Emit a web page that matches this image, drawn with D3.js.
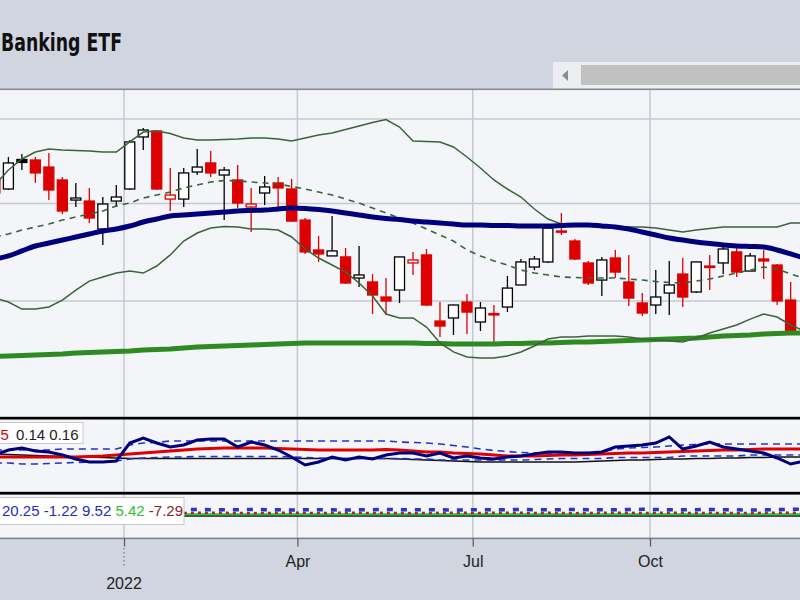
<!DOCTYPE html>
<html><head><meta charset="utf-8">
<script src="https://cdn.jsdelivr.net/npm/d3@7"></script>
<style>body{margin:0;background:#d0d5e0;}svg{display:block}</style>
</head><body>
<svg id="chart" width="800" height="600"></svg>
<script>
// ---------- DATA ----------
const weeks = ["2021-10-26","2021-11-02","2021-11-09","2021-11-16","2021-11-23","2021-11-30","2021-12-07","2021-12-14","2021-12-21","2021-12-28",
"2022-01-04","2022-01-11","2022-01-18","2022-01-25","2022-02-01","2022-02-08","2022-02-15","2022-02-22","2022-03-01","2022-03-08",
"2022-03-15","2022-03-22","2022-03-29","2022-04-05","2022-04-12","2022-04-19","2022-04-26","2022-05-03","2022-05-10","2022-05-17",
"2022-05-24","2022-05-31","2022-06-07","2022-06-14","2022-06-21","2022-06-28","2022-07-05","2022-07-12","2022-07-19","2022-07-26",
"2022-08-02","2022-08-09","2022-08-16","2022-08-23","2022-08-30","2022-09-06","2022-09-13","2022-09-20","2022-09-27","2022-10-04",
"2022-10-11","2022-10-18","2022-10-25","2022-11-01","2022-11-08","2022-11-15","2022-11-22","2022-11-29","2022-12-06","2022-12-13","2022-12-20"];

const opens  = [72.88,71.62,75.04,74.98,74.15,72.65,70.38,70.27,67.23,70.27,71.62,77.76,78.50,70.49,70.49,73.57,74.63,73.22,72.65,69.61,
71.17,72.31,71.62,68.19,65.04,64.43,64.33,62.22,61.83,60.38,61.05,63.72,64.53,58.13,58.41,59.90,58.04,58.82,59.43,61.54,
63.31,63.82,67.02,65.97,63.72,62.02,64.22,61.83,59.81,59.62,60.76,62.61,60.86,63.41,63.72,64.84,62.91,64.12,63.51,60.09];
const highs  = [73.80,75.34,75.69,75.34,75.81,72.99,72.31,71.74,70.72,72.08,77.39,78.87,78.62,74.04,74.04,76.29,76.05,74.15,74.39,71.74,
73.11,72.99,72.76,68.41,66.49,68.63,65.25,65.45,62.61,62.22,64.35,64.84,65.14,59.90,59.65,60.67,59.90,59.62,62.42,64.12,
64.43,67.55,68.95,66.18,63.92,64.33,65.04,64.53,60.76,63.01,63.92,64.22,63.85,64.53,65.45,65.35,64.74,65.04,63.61,61.83];
const lows   = [70.61,71.51,73.80,72.31,70.38,68.84,69.61,67.87,65.56,69.61,71.51,76.17,71.51,69.17,69.61,73.22,72.99,68.19,69.50,66.91,
69.83,69.61,67.98,64.63,63.82,64.43,61.63,61.34,58.78,58.69,59.81,62.52,59.53,56.68,56.86,56.95,57.22,56.23,58.96,61.54,
63.01,63.72,66.60,64.02,61.54,60.47,62.22,59.53,58.59,58.78,58.69,59.43,60.76,61.05,62.61,62.32,62.91,62.12,59.62,57.04];
const closes = [71.17,74.63,74.69,73.46,71.51,69.17,70.61,68.41,69.94,70.72,77.15,78.62,71.62,70.94,73.46,74.15,73.46,73.80,70.05,69.94,
71.85,71.74,68.08,64.84,64.63,64.94,61.73,62.52,60.57,60.00,64.33,64.02,59.62,57.67,59.62,58.96,59.34,58.69,61.24,63.82,
64.12,67.33,66.91,64.12,61.73,64.02,62.81,60.28,58.87,60.38,61.54,60.38,63.82,63.26,65.14,62.81,64.43,63.92,60.00,57.13];

const bbUpper = [72.08,73.80,75.10,75.93,76.29,76.17,76.11,76.05,75.93,75.93,77.15,78.37,78.50,78.19,77.64,77.39,77.39,77.45,77.51,77.64,
77.64,77.51,77.27,77.64,78.00,78.25,78.68,79.12,79.56,79.94,78.99,77.27,77.21,77.15,76.54,75.34,74.04,72.65,71.62,70.72,
69.39,68.30,67.76,67.71,67.60,67.55,67.49,67.44,67.44,67.33,67.12,66.91,67.12,67.28,67.44,67.44,67.44,67.44,67.44,67.87,67.87];
const bbMiddle = [66.39,66.70,67.12,67.44,67.76,68.19,68.52,68.84,69.17,69.72,70.05,70.61,70.94,71.28,71.74,72.08,72.42,72.59,72.54,72.42,
72.31,72.19,71.91,71.62,71.28,70.94,70.49,70.05,69.50,68.95,68.41,67.87,67.23,66.60,65.97,65.04,64.43,63.92,63.51,63.01,
62.71,62.52,62.32,62.27,62.22,62.22,62.22,62.12,62.02,61.88,61.78,61.73,61.92,62.12,62.42,62.71,63.01,63.31,63.11,62.61,62.22];
const bbLower = [60.28,59.90,59.24,59.24,59.43,60.09,61.05,61.92,62.32,62.71,62.91,62.71,63.41,64.53,65.97,66.81,67.33,67.49,67.44,67.23,
67.23,67.12,66.39,65.14,64.22,63.51,62.81,61.73,60.47,58.78,58.41,58.41,57.58,56.15,55.36,54.92,54.84,54.84,55.01,55.36,
55.88,56.50,56.68,56.68,56.77,56.77,56.77,56.68,56.50,56.41,56.32,56.23,56.59,57.04,57.40,57.77,58.31,58.78,58.50,57.77,57.22];
const sma50 = [64.12,64.43,64.94,65.45,65.76,66.07,66.39,66.70,67.02,67.23,67.55,67.98,68.30,68.63,68.74,68.84,68.95,69.06,69.17,69.23,
69.28,69.39,69.50,69.45,69.33,69.17,68.95,68.74,68.52,68.36,68.25,68.08,67.98,67.87,67.76,67.66,67.66,67.60,67.60,67.55,
67.55,67.55,67.60,67.66,67.66,67.55,67.44,67.23,66.91,66.60,66.28,66.07,65.86,65.71,65.55,65.45,65.40,65.35,65.04,64.63,64.22];
const sma200 = [54.96,55.00,55.05,55.09,55.14,55.18,55.27,55.31,55.36,55.40,55.45,55.53,55.57,55.62,55.71,55.79,55.84,55.88,55.93,55.97,
56.01,56.06,56.10,56.15,56.15,56.15,56.15,56.15,56.15,56.15,56.15,56.15,56.10,56.10,56.06,56.06,56.06,56.06,56.10,56.10,
56.15,56.15,56.19,56.23,56.23,56.28,56.32,56.37,56.41,56.46,56.50,56.54,56.59,56.68,56.77,56.81,56.86,56.95,56.99,57.04,57.04];
const priceGrid = [60, 70, 80];

// indicator panel 1 (ratio)
const ratio = [0.1454,0.1494,0.1510,0.1486,0.1478,0.1454,0.1422,0.1398,0.1398,0.1406,0.1550,0.1590,0.1550,0.1518,0.1534,0.1574,0.1582,0.1582,0.1518,0.1558,
0.1534,0.1494,0.1438,0.1374,0.1398,0.1438,0.1414,0.1438,0.1422,0.1454,0.1470,0.1470,0.1446,0.1470,0.1430,0.1446,0.1430,0.1422,0.1438,0.1446,
0.1462,0.1478,0.1478,0.1470,0.1470,0.1478,0.1518,0.1526,0.1534,0.1550,0.1598,0.1502,0.1526,0.1558,0.1518,0.1502,0.1486,0.1470,0.1430,0.1382,0.1406];
const ratioAvg = [0.1438,0.1438,0.1438,0.1438,0.1438,0.1438,0.1438,0.1442,0.1446,0.1454,0.1462,0.1470,0.1478,0.1486,0.1494,0.1502,0.1506,0.1510,0.1510,0.1510,
0.1510,0.1506,0.1502,0.1498,0.1494,0.1494,0.1494,0.1494,0.1494,0.1498,0.1494,0.1486,0.1478,0.1478,0.1470,0.1466,0.1462,0.1454,0.1446,0.1446,
0.1446,0.1450,0.1454,0.1454,0.1458,0.1462,0.1466,0.1470,0.1470,0.1474,0.1478,0.1482,0.1486,0.1490,0.1494,0.1494,0.1498,0.1502,0.1502,0.1502,0.1502];
const ratioUpper = [0.1494,0.1494,0.1494,0.1494,0.1494,0.1502,0.1502,0.1502,0.1502,0.1502,0.1534,0.1550,0.1554,0.1566,0.1566,0.1566,0.1566,0.1566,0.1566,0.1566,
0.1566,0.1566,0.1566,0.1566,0.1566,0.1566,0.1566,0.1566,0.1566,0.1566,0.1558,0.1554,0.1550,0.1542,0.1530,0.1518,0.1502,0.1490,0.1482,0.1474,
0.1470,0.1470,0.1470,0.1470,0.1474,0.1478,0.1502,0.1510,0.1514,0.1518,0.1526,0.1534,0.1538,0.1542,0.1542,0.1542,0.1542,0.1542,0.1542,0.1542,0.1542];
const ratioLower = [0.1390,0.1390,0.1382,0.1382,0.1386,0.1390,0.1394,0.1398,0.1398,0.1406,0.1422,0.1430,0.1434,0.1438,0.1438,0.1442,0.1442,0.1442,0.1442,0.1442,
0.1442,0.1442,0.1438,0.1434,0.1430,0.1426,0.1426,0.1426,0.1426,0.1426,0.1426,0.1422,0.1422,0.1414,0.1414,0.1414,0.1414,0.1414,0.1414,0.1414,
0.1418,0.1422,0.1426,0.1426,0.1426,0.1426,0.1434,0.1434,0.1434,0.1434,0.1434,0.1446,0.1446,0.1446,0.1446,0.1446,0.1454,0.1454,0.1454,0.1454,0.1454];
const ratioBase = [0.1462,0.1458,0.1454,0.1450,0.1446,0.1442,0.1438,0.1438,0.1434,0.1430,0.1426,0.1426,0.1426,0.1426,0.1426,0.1426,0.1426,0.1426,0.1426,0.1426,
0.1426,0.1426,0.1426,0.1426,0.1426,0.1426,0.1426,0.1426,0.1426,0.1426,0.1422,0.1418,0.1414,0.1410,0.1406,0.1402,0.1398,0.1398,0.1398,0.1398,
0.1398,0.1398,0.1398,0.1398,0.1402,0.1406,0.1410,0.1414,0.1414,0.1418,0.1422,0.1422,0.1426,0.1426,0.1430,0.1430,0.1434,0.1434,0.1438,0.1438,0.1438];
const legend1 = [{t:"5",c:"#d40000"},{t:"0.14 0.16",c:"#222"}];

// indicator panel 2
const ind2Blue = [19.0,19.5,19.0,18.5,19.0,19.5,19.0,18.5,19.0,19.5,20.0,19.5,19.0,19.5,20.0,19.5,19.0,18.5,19.0,19.5,
19.0,18.5,18.0,18.5,19.0,18.5,18.0,18.5,19.0,19.5,19.0,18.5,19.0,18.5,18.0,18.5,19.0,18.5,19.0,19.5,
19.0,18.5,19.0,19.5,19.0,18.5,19.0,19.5,20.0,19.5,19.0,18.5,19.0,19.5,19.0,18.5,18.0,18.5,19.0,20.25,20.0];
const ind2Red = [9.5,9.0,9.5,10.0,9.5,9.0,9.5,10.0,9.0,8.5,9.0,9.5,10.0,9.5,9.0,9.5,10.0,9.5,9.0,8.5,
9.0,9.5,10.0,9.5,9.0,9.5,10.0,9.5,9.0,9.5,9.0,8.5,9.0,9.5,10.0,9.5,9.0,9.5,10.0,9.5,
9.0,9.5,9.0,8.5,9.0,9.5,10.0,9.5,9.0,9.5,10.0,9.5,9.0,9.5,9.0,8.5,9.0,9.5,9.52,9.5,9.5];
const ind2Green = [5.5,5.5,5.4,5.4,5.5,5.6,5.5,5.4,5.4,5.5,5.6,5.6,5.5,5.4,5.4,5.5,5.5,5.6,5.5,5.4,
5.4,5.3,5.3,5.4,5.5,5.5,5.4,5.4,5.3,5.4,5.5,5.5,5.4,5.4,5.3,5.3,5.4,5.5,5.5,5.4,
5.4,5.5,5.6,5.5,5.4,5.4,5.5,5.5,5.6,5.5,5.4,5.4,5.5,5.5,5.4,5.4,5.4,5.5,5.42,5.4,5.4];
const ind2Zero = [0];
const legend2 = [{t:"20.25",c:"#1f2fb8"},{t:"-1.22",c:"#1f2fb8"},{t:"9.52",c:"#1f2fb8"},{t:"5.42",c:"#2ec02e"},{t:"-7.29",c:"#8b1c2c"}];

const monthTicks = ["2022-01-01","2022-04-01","2022-07-01","2022-10-01"];
const monthLabels = ["", "Apr", "Jul", "Oct"];
const yearLabel = "2022";
const title = "Banking ETF";

// ---------- CHART ----------
const W = 800, H = 600;
const P = {top: 89, priceBottom: 417, ind1Top: 419.5, ind1Bottom: 492, ind2Top: 494.5, ind2Bottom: 538};
const parse = d3.utcParse("%Y-%m-%d");
const dates = weeks.map(parse);
const svg = d3.select("#chart");

const x = d3.scaleUtc().domain([parse("2022-01-01"), parse("2022-10-01")]).range([124, 650]);
const y = d3.scaleLog().domain([80, 60]).range([119, 301]);
const y1 = d3.scaleLinear().domain([0.115, 0.175]).range([493, 418]);
const y2 = d3.scaleLinear().domain([-63, 69]).range([537, 493]);

// background
svg.append("rect").attr("width", W).attr("height", H).attr("fill", "#d0d5e0");
svg.append("rect").attr("x", 0).attr("y", P.top).attr("width", W).attr("height", P.ind2Bottom - P.top).attr("fill", "#f3f5f9");

// title
svg.append("text").attr("x", 1).attr("y", 51).text(title)
  .attr("font-family", "'Liberation Sans Narrow','DejaVu Sans Condensed',Arial,sans-serif")
  .attr("font-weight", "bold").attr("font-size", 25).attr("fill", "#111")
  .attr("textLength", 121).attr("lengthAdjust", "spacingAndGlyphs");

// scrollbar
const sb = svg.append("g");
sb.append("rect").attr("x", 553).attr("y", 62).attr("width", 247).attr("height", 27).attr("fill", "#eceef2");
sb.append("path").attr("d", "M568,70 L562,75.5 L568,81 Z").attr("fill", "#8c8c8c");
sb.append("rect").attr("x", 581).attr("y", 65).attr("width", 219).attr("height", 20).attr("fill", "#c1c1c1");

// clip paths
const defs = svg.append("defs");
defs.append("clipPath").attr("id", "clipP").append("rect").attr("x", 0).attr("y", P.top).attr("width", W).attr("height", P.priceBottom - P.top);
defs.append("clipPath").attr("id", "clip1").append("rect").attr("x", 0).attr("y", P.ind1Top).attr("width", W).attr("height", P.ind1Bottom - P.ind1Top);
defs.append("clipPath").attr("id", "clip2").append("rect").attr("x", 0).attr("y", P.ind2Top).attr("width", W).attr("height", P.ind2Bottom - P.ind2Top);

// vertical grid
const tickDates = monthTicks.map(parse);
svg.append("g").selectAll("line").data(tickDates).join("line")
  .attr("x1", d => x(d)).attr("x2", d => x(d)).attr("y1", P.top).attr("y2", P.ind2Bottom)
  .attr("stroke", "#c5c9d1").attr("stroke-width", 1.5);

// horizontal price grid
const gP = svg.append("g").attr("clip-path", "url(#clipP)");
gP.append("g").selectAll("line").data(priceGrid).join("line")
  .attr("x1", 0).attr("x2", W).attr("y1", d => y(d)).attr("y2", d => y(d))
  .attr("stroke", "#c5c9d1").attr("stroke-width", 1.5);

// candles
const bw = (x(dates[1]) - x(dates[0])) * 0.74;
const candles = opens.map((o, i) => ({
  d: dates[i], o, h: highs[i], l: lows[i], c: closes[i],
  col: (i === 0 ? closes[i] < opens[i] : closes[i] < closes[i - 1]) ? "#dd0000" : "#000000"
}));
const cg = gP.append("g");
cg.selectAll("line").data(candles).join("line")
  .attr("x1", d => x(d.d)).attr("x2", d => x(d.d))
  .attr("y1", d => y(d.h)).attr("y2", d => y(d.l))
  .attr("stroke", d => d.col).attr("stroke-width", 1.3);
cg.selectAll("rect").data(candles).join("rect")
  .attr("x", d => x(d.d) - bw / 2).attr("width", bw)
  .attr("y", d => y(Math.max(d.o, d.c)))
  .attr("height", d => Math.max(1.2, Math.abs(y(d.o) - y(d.c))))
  .attr("fill", d => d.c < d.o ? d.col : "#ffffff")
  .attr("stroke", d => d.col).attr("stroke-width", 1.3);

// overlays
const lineP = arr => d3.line().x((v, i) => x(dates[i])).y(v => y(v))(arr);
gP.append("path").attr("d", lineP(sma200)).attr("fill", "none").attr("stroke", "#2f8a22").attr("stroke-width", 5);
gP.append("path").attr("d", lineP(bbUpper)).attr("fill", "none").attr("stroke", "#3b633b").attr("stroke-width", 1.5);
gP.append("path").attr("d", lineP(bbLower)).attr("fill", "none").attr("stroke", "#3b633b").attr("stroke-width", 1.5);
gP.append("path").attr("d", lineP(bbMiddle)).attr("fill", "none").attr("stroke", "#3b633b").attr("stroke-width", 1.6).attr("stroke-dasharray", "6,5");
gP.append("path").attr("d", d3.line().x((v, i) => x(dates[i])).y(v => y(v)).curve(d3.curveMonotoneX)(sma50))
  .attr("fill", "none").attr("stroke", "#00007d").attr("stroke-width", 5);

// panel 1
const g1 = svg.append("g").attr("clip-path", "url(#clip1)");
const line1 = arr => d3.line().x((v, i) => x(dates[i])).y(v => y1(v))(arr);
g1.append("path").attr("d", line1(ratioBase)).attr("fill", "none").attr("stroke", "#111").attr("stroke-width", 1.3);
g1.append("path").attr("d", line1(ratioUpper)).attr("fill", "none").attr("stroke", "#2233cc").attr("stroke-width", 1.6).attr("stroke-dasharray", "7,5");
g1.append("path").attr("d", line1(ratioLower)).attr("fill", "none").attr("stroke", "#2233cc").attr("stroke-width", 1.6).attr("stroke-dasharray", "7,5");
g1.append("path").attr("d", line1(ratioAvg)).attr("fill", "none").attr("stroke", "#e00000").attr("stroke-width", 3);
g1.append("path").attr("d", line1(ratio)).attr("fill", "none").attr("stroke", "#00007d").attr("stroke-width", 3);

// panel 2
const g2 = svg.append("g").attr("clip-path", "url(#clip2)");
const line2 = arr => d3.line().x((v, i) => x(dates[i])).y(v => y2(v))(arr);
g2.append("line").attr("x1", 0).attr("x2", W).attr("y1", y2(ind2Zero[0])).attr("y2", y2(ind2Zero[0])).attr("stroke", "#111").attr("stroke-width", 1.5);
g2.append("path").attr("d", line2(ind2Green)).attr("fill", "none").attr("stroke", "#22cc22").attr("stroke-width", 2);
g2.append("path").attr("d", line2(ind2Red)).attr("fill", "none").attr("stroke", "#b02030").attr("stroke-width", 2.5).attr("stroke-dasharray", "3,4");
g2.append("path").attr("d", line2(ind2Blue)).attr("fill", "none").attr("stroke", "#2a35d0").attr("stroke-width", 3.5).attr("stroke-dasharray", "6,8");

// panel borders
svg.append("rect").attr("x", 0).attr("y", 88.5).attr("width", W).attr("height", 1.6).attr("fill", "#868b94");
svg.append("rect").attr("x", 0).attr("y", 416.8).attr("width", W).attr("height", 2.7).attr("fill", "#000");
svg.append("rect").attr("x", 0).attr("y", 491.8).attr("width", W).attr("height", 2.8).attr("fill", "#000");
svg.append("rect").attr("x", 0).attr("y", 537.6).attr("width", W).attr("height", 1.6).attr("fill", "#7c818a");

// legends
const legendFont = "'Liberation Sans',Arial,sans-serif";
function legendBox(bx, by, bwid, bh) {
  svg.append("rect").attr("x", bx).attr("y", by).attr("width", bwid).attr("height", bh)
    .attr("fill", "#ffffff").attr("stroke", "#c8c8c8").attr("stroke-width", 1);
}
legendBox(-1, 422.5, 84, 21);
svg.append("text").attr("x", 0.5).attr("y", 439.5).attr("font-family", legendFont).attr("font-size", 15)
  .attr("fill", legend1[0].c).text(legend1[0].t);
svg.append("text").attr("x", 16).attr("y", 439.5).attr("font-family", legendFont).attr("font-size", 15)
  .attr("fill", legend1[1].c).text(legend1[1].t);

legendBox(-1, 497.5, 185, 27);
const t2 = svg.append("text").attr("x", 2).attr("y", 515.5).attr("font-family", legendFont).attr("font-size", 15);
legend2.forEach((it, k) => t2.append("tspan").attr("fill", it.c).text((k ? " " : "") + it.t));

// x axis
const axis = d3.axisBottom(x).tickValues(tickDates).tickSize(8).tickPadding(9)
  .tickFormat((d, i) => monthLabels[i]);
const ax = svg.append("g").attr("transform", `translate(0,${P.ind2Bottom + 0.5})`).call(axis);
ax.select(".domain").remove();
ax.selectAll(".tick line").attr("stroke", "#555").attr("stroke-width", 1.2);
ax.selectAll(".tick text").attr("font-family", "'Liberation Sans',Arial,sans-serif").attr("font-size", 16).attr("fill", "#222");
svg.append("line").attr("x1", x(tickDates[0])).attr("x2", x(tickDates[0])).attr("y1", 548).attr("y2", 568)
  .attr("stroke", "#666").attr("stroke-width", 1).attr("stroke-dasharray", "1.5,2.5");
svg.append("text").attr("x", x(tickDates[0])).attr("y", 589).attr("text-anchor", "middle").text(yearLabel)
  .attr("font-family", "'Liberation Sans',Arial,sans-serif").attr("font-size", 16).attr("fill", "#222");
</script>
</body></html>
